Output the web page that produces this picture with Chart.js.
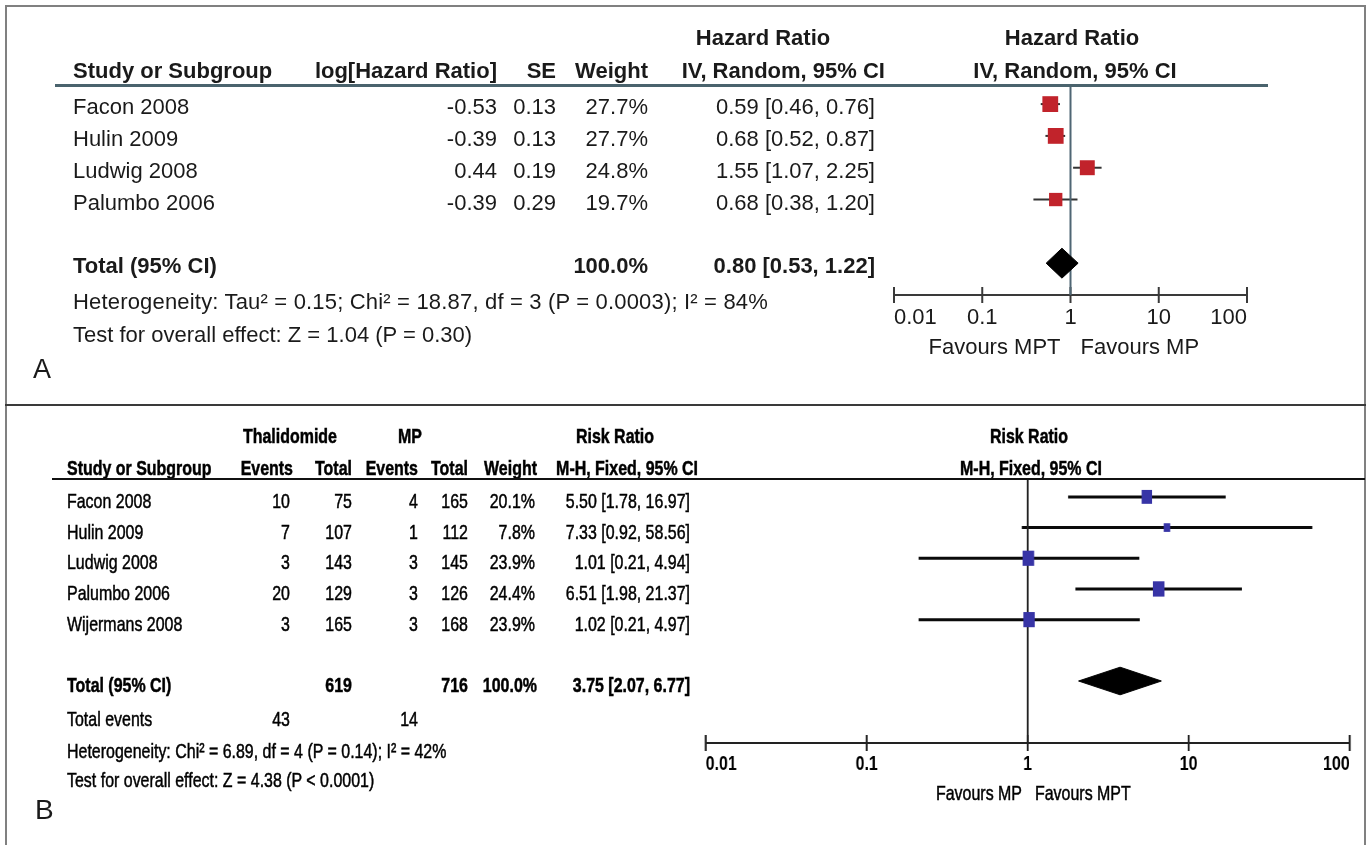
<!DOCTYPE html>
<html>
<head>
<meta charset="utf-8">
<script src="https://cdn.jsdelivr.net/npm/chart.js@4.4.1/dist/chart.umd.min.js"></script>
<style>
    body { margin: 0; background: #fff; }
    #page {
        position: relative; width: 1370px; height: 845px; overflow: hidden;
        font-family: 'Liberation Sans', Arial, sans-serif; color: #1a1a1a;
    }
    .t { position: absolute; white-space: nowrap; line-height: 1; }
    .a { font-size: 22px; }
    .b { font-size: 21px; color: #000; -webkit-text-stroke: 0.5px #000; }
    .bold { font-weight: bold; }
    .rule { position: absolute; }
    canvas { position: absolute; }
    #panelB { position: absolute; left: 0; top: 0; height: 845px; transform-origin: 0 0; }
</style>
</head>
<body>
<div id="page">
    <div id="panelB"></div>
</div>
<script>
// Panel A - hazard ratio, IV random
const studiesA = ['Facon 2008', 'Hulin 2009', 'Ludwig 2008', 'Palumbo 2006']
const logHrA = [-0.53, -0.39, 0.44, -0.39]
const seA = [0.13, 0.13, 0.19, 0.29]
const weightA = [27.7, 27.7, 24.8, 19.7]
const hrA = [0.59, 0.68, 1.55, 0.68]
const hrLowA = [0.46, 0.52, 1.07, 0.38]
const hrHighA = [0.76, 0.87, 2.25, 1.20]
const totalA = [0.53, 0.80, 1.22] // low, estimate, high
const totalWeightA = '100.0%'
const hetA = 'Heterogeneity: Tau² = 0.15; Chi² = 18.87, df = 3 (P = 0.0003); I² = 84%'
const testA = 'Test for overall effect: Z = 1.04 (P = 0.30)'

// Panel B - risk ratio, M-H fixed
const studiesB = ['Facon 2008', 'Hulin 2009', 'Ludwig 2008', 'Palumbo 2006', 'Wijermans 2008']
const eventsThal = [10, 7, 3, 20, 3]
const totalThal = [75, 107, 143, 129, 165]
const eventsMP = [4, 1, 3, 3, 3]
const totalMP = [165, 112, 145, 126, 168]
const weightB = [20.1, 7.8, 23.9, 24.4, 23.9]
const rrB = [5.50, 7.33, 1.01, 6.51, 1.02]
const rrLowB = [1.78, 0.92, 0.21, 1.98, 0.21]
const rrHighB = [16.97, 58.56, 4.94, 21.37, 4.97]
const totalB = [2.07, 3.75, 6.77]
const totalWeightB = '100.0%'
const hetB = 'Heterogeneity: Chi² = 6.89, df = 4 (P = 0.14); I² = 42%'
const testB = 'Test for overall effect: Z = 4.38 (P < 0.0001)'

const axisTicks = [0.01, 0.1, 1, 10, 100]

const SQ = 0.76 // panel B looks squeezed sideways
const FONT = "'Liberation Sans', Arial, sans-serif"

const page = document.getElementById('page')
const panelB = document.getElementById('panelB')
panelB.style.width = (1370 / SQ) + 'px'
panelB.style.transform = `scaleX(${SQ})`

function put(parent, text, x, y, align, cls) {
    const el = document.createElement('div')
    el.className = 't ' + cls
    el.textContent = text
    el.style.left = x + 'px'
    el.style.top = y + 'px'
    const tx = align === 'right' ? '-100%' : align === 'center' ? '-50%' : '0'
    el.style.transform = `translate(${tx}, -50%)`
    parent.appendChild(el)
    return el
}
const putA = (text, x, y, align, cls = '') => put(page, text, x, y, align, 'a ' + cls)
const putB = (text, x, y, align, cls = '') => put(panelB, text, x / SQ, y, align, 'b ' + cls)

function rule(parent, x, y, w, h, color) {
    const el = document.createElement('div')
    el.className = 'rule'
    Object.assign(el.style, { left: x + 'px', top: y + 'px', width: w + 'px', height: h + 'px', background: color })
    parent.appendChild(el)
}

const f2 = (v) => v.toFixed(2)
const ci = (e, l, h) => `${f2(e)} [${f2(l)}, ${f2(h)}]`
const sum = (arr) => arr.reduce((a, b) => a + b, 0)

/* ==============================
   forest plot chart
============================== */
function forestChart(parent, box, cfg) {
    const canvas = document.createElement('canvas')
    canvas.width = box.w
    canvas.height = box.h
    canvas.style.left = box.x + 'px'
    canvas.style.top = box.y + 'px'
    parent.appendChild(canvas)

    const n = cfg.est.length
    const datasets = []

    // line of no effect
    datasets.push({
        data: [{ x: 1, y: cfg.yMin }, { x: 1, y: cfg.yMax }],
        borderColor: cfg.refColor, borderWidth: cfg.refWidth, pointRadius: 0, order: 1
    })
    // confidence intervals
    for (let i = 0; i < n; i++) {
        datasets.push({
            data: [{ x: cfg.low[i], y: i }, { x: cfg.high[i], y: i }],
            borderColor: cfg.ciColor, borderWidth: cfg.ciWidth, pointRadius: 0, order: 2
        })
    }
    // study boxes, size from weight
    datasets.push({
        data: cfg.est.map((v, i) => ({ x: v, y: i })),
        showLine: false,
        pointStyle: 'rect',
        pointRadius: cfg.weight.map((w) => (cfg.boxScale * Math.sqrt(w)) / Math.SQRT2),
        pointBackgroundColor: cfg.boxColor,
        pointBorderWidth: 0,
        order: 0
    })
    // pooled diamond
    const [lo, est, hi] = cfg.total
    const r = cfg.totalRow
    const h = cfg.diamondHalf
    datasets.push({
        data: [{ x: lo, y: r }, { x: est, y: r - h }, { x: hi, y: r }, { x: est, y: r + h }, { x: lo, y: r }],
        borderColor: '#000', borderWidth: 1, backgroundColor: '#000',
        fill: 'shape', pointRadius: 0, order: 0
    })
    // crossing tick marks on the axis
    datasets.push({
        data: axisTicks.map((v) => ({ x: v, y: cfg.yMax })),
        showLine: false,
        pointStyle: 'line',
        pointRotation: 90,
        pointRadius: cfg.tickHalf,
        pointBorderColor: cfg.axisColor,
        pointBorderWidth: cfg.tickWidth,
        order: 1
    })
    datasets.forEach((d) => { d.clip = false })

    return new Chart(canvas, {
        type: 'line',
        data: { datasets },
        options: {
            responsive: false,
            animation: false,
            events: [],
            layout: { padding: cfg.padding },
            plugins: { legend: { display: false }, tooltip: { enabled: false } },
            scales: {
                x: {
                    type: 'logarithmic',
                    min: 0.01,
                    max: 100,
                    afterBuildTicks: (s) => { s.ticks = axisTicks.map((v) => ({ value: v })) },
                    afterFit: (s) => { s.height = 40 },
                    grid: { display: false, drawTicks: false },
                    border: { display: true, color: cfg.axisColor, width: 2 },
                    ticks: {
                        autoSkip: false,
                        maxRotation: 0,
                        align: 'inner',
                        padding: cfg.tickPad,
                        color: cfg.tickColor,
                        font: { family: FONT, size: cfg.tickSize, weight: cfg.tickWeight },
                        callback: (v) => String(v)
                    }
                },
                y: { type: 'linear', reverse: true, min: cfg.yMin, max: cfg.yMax, display: false }
            }
        }
    })
}

/* ==============================
   frame
============================== */
rule(page, 5, 5, 1361, 2, '#808080')
rule(page, 5, 5, 2, 840, '#808080')
rule(page, 1364, 5, 2, 840, '#808080')
rule(page, 5, 404, 1361, 2, '#3a3a3a')

/* ==============================
   PANEL A
============================== */
const boxA = { x: 860, y: 60, w: 420, h: 320 }
const areaA = { left: 894, right: 1247, top: 85, bottom: 295 }
const chartA = forestChart(page, boxA, {
    est: hrA, low: hrLowA, high: hrHighA, weight: weightA, total: totalA,
    yMin: -0.6, yMax: 6.0, totalRow: 5, diamondHalf: 0.47,
    boxScale: 3.0, boxColor: '#c1232b',
    ciColor: '#333', ciWidth: 2,
    refColor: '#4f6674', refWidth: 2,
    axisColor: '#3a3a3a', tickHalf: 8, tickWidth: 2,
    tickPad: 10, tickSize: 22, tickWeight: 'normal', tickColor: '#1a1a1a',
    padding: {
        left: areaA.left - boxA.x,
        right: boxA.x + boxA.w - areaA.right,
        top: areaA.top - boxA.y,
        bottom: boxA.y + boxA.h - areaA.bottom - 40
    }
})

rule(page, 55, 84, 1213, 3, '#4a636d')

putA('Hazard Ratio', 763, 38, 'center', 'bold')
putA('Hazard Ratio', 1072, 38, 'center', 'bold')
putA('Study or Subgroup', 73, 71, 'left', 'bold')
putA('log[Hazard Ratio]', 497, 71, 'right', 'bold')
putA('SE', 556, 71, 'right', 'bold')
putA('Weight', 648, 71, 'right', 'bold')
putA('IV, Random, 95% CI', 885, 71, 'right', 'bold')
putA('IV, Random, 95% CI', 1075, 71, 'center', 'bold')

const rowA = (i) => boxA.y + chartA.scales.y.getPixelForValue(i) + 3
studiesA.forEach((s, i) => {
    const y = rowA(i)
    putA(s, 73, y, 'left')
    putA(f2(logHrA[i]), 497, y, 'right')
    putA(f2(seA[i]), 556, y, 'right')
    putA(weightA[i].toFixed(1) + '%', 648, y, 'right')
    putA(ci(hrA[i], hrLowA[i], hrHighA[i]), 875, y, 'right')
})
const yTotA = rowA(5)
putA('Total (95% CI)', 73, yTotA, 'left', 'bold')
putA(totalWeightA, 648, yTotA, 'right', 'bold')
putA(ci(totalA[1], totalA[0], totalA[2]), 875, yTotA, 'right', 'bold')
putA(hetA, 73, 302, 'left').style.letterSpacing = '0.18px'
putA(testA, 73, 335, 'left')

const oneA = boxA.x + chartA.scales.x.getPixelForValue(1)
putA('Favours MPT', oneA - 10, 347, 'right')
putA('Favours MP', oneA + 10, 347, 'left')
put(page, 'A', 33, 369, 'left', '').style.fontSize = '27px'

/* ==============================
   PANEL B (drawn unsqueezed, then squeezed)
============================== */
const boxB = { x: 660, y: 440, w: 706, h: 400 } // page pixels
const areaB = { left: 706, right: 1350, top: 480, bottom: 743 }
const chartB = forestChart(panelB, {
    x: boxB.x / SQ, y: boxB.y, w: Math.round(boxB.w / SQ), h: boxB.h
}, {
    est: rrB, low: rrLowB, high: rrHighB, weight: weightB, total: totalB,
    yMin: -0.55, yMax: 8.02, totalRow: 6, diamondHalf: 0.45,
    boxScale: 3.1, boxColor: '#3734a6',
    ciColor: '#0a0a0a', ciWidth: 3,
    refColor: '#222', refWidth: 2.6,
    axisColor: '#222', tickHalf: 8, tickWidth: 2.6,
    tickPad: 9, tickSize: 21, tickWeight: 'bold', tickColor: '#000',
    padding: {
        left: (areaB.left - boxB.x) / SQ,
        right: Math.round(boxB.w / SQ) - (areaB.right - boxB.x) / SQ,
        top: areaB.top - boxB.y,
        bottom: boxB.y + boxB.h - areaB.bottom - 40
    }
})

rule(page, 52, 478, 1313, 2, '#111')

putB('Thalidomide', 290, 435, 'center', 'bold')
putB('MP', 410, 435, 'center', 'bold')
putB('Risk Ratio', 615, 435, 'center', 'bold')
putB('Risk Ratio', 1029, 435, 'center', 'bold')
putB('Study or Subgroup', 67, 467, 'left', 'bold')
putB('Events', 293, 467, 'right', 'bold')
putB('Total', 352, 467, 'right', 'bold')
putB('Events', 418, 467, 'right', 'bold')
putB('Total', 468, 467, 'right', 'bold')
putB('Weight', 537, 467, 'right', 'bold')
putB('M-H, Fixed, 95% CI', 698, 467, 'right', 'bold')
putB('M-H, Fixed, 95% CI', 1031, 467, 'center', 'bold')

const rowB = (i) => boxB.y + chartB.scales.y.getPixelForValue(i) + 3
studiesB.forEach((s, i) => {
    const y = rowB(i)
    putB(s, 67, y, 'left')
    putB(String(eventsThal[i]), 290, y, 'right')
    putB(String(totalThal[i]), 352, y, 'right')
    putB(String(eventsMP[i]), 418, y, 'right')
    putB(String(totalMP[i]), 468, y, 'right')
    putB(weightB[i].toFixed(1) + '%', 535, y, 'right')
    putB(ci(rrB[i], rrLowB[i], rrHighB[i]), 690, y, 'right')
})
const yTotB = rowB(6)
putB('Total (95% CI)', 67, yTotB, 'left', 'bold')
putB(String(sum(totalThal)), 352, yTotB, 'right', 'bold')
putB(String(sum(totalMP)), 468, yTotB, 'right', 'bold')
putB(totalWeightB, 537, yTotB, 'right', 'bold')
putB(ci(totalB[1], totalB[0], totalB[2]), 690, yTotB, 'right', 'bold')
putB('Total events', 67, 718, 'left')
putB(String(sum(eventsThal)), 290, 718, 'right')
putB(String(sum(eventsMP)), 418, 718, 'right')
putB(hetB, 67, 750, 'left')
putB(testB, 67, 779, 'left')

const oneB = boxB.x + chartB.scales.x.getPixelForValue(1) * SQ
putB('Favours MP', oneB - 6, 792, 'right')
putB('Favours MPT', oneB + 7, 792, 'left')
put(page, 'B', 35, 810, 'left', '').style.fontSize = '28px'
</script>
</body>
</html>
